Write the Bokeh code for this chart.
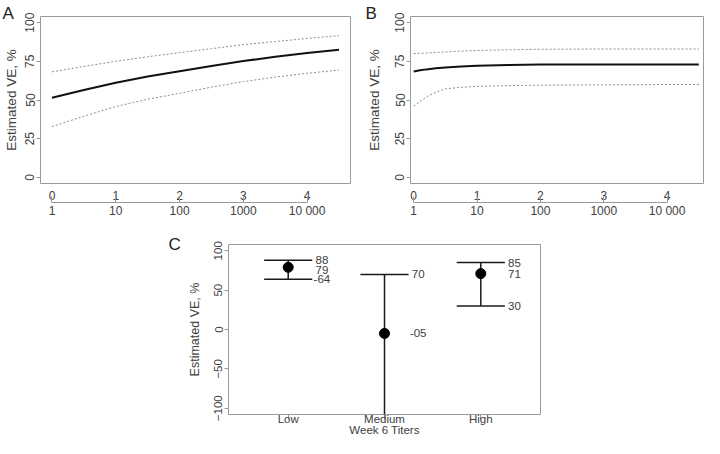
from bokeh.plotting import figure
from bokeh.models import (Range1d, FactorRange, LinearAxis, CategoricalAxis, FixedTicker,
                          ColumnDataSource, Title)
from bokeh.layouts import column, row
from bokeh.transform import dodge
from bokeh.embed import file_html
from bokeh.resources import INLINE

# ---------------- data ----------------
log_titer = [0, 0.5, 1, 1.5, 2, 2.5, 3, 3.5, 4, 4.5]
a_est = [51.5, 56.5, 61.2, 65.2, 68.6, 72.0, 75.2, 77.9, 80.4, 82.5]
a_upper = [68.2, 71.7, 75.0, 78.0, 80.6, 83.2, 85.8, 87.8, 89.8, 91.6]
a_lower = [32.8, 39.5, 45.8, 50.5, 54.3, 58.3, 61.9, 64.8, 67.3, 69.3]

b_x = [0, 0.1, 0.2, 0.35, 0.5, 0.75, 1, 1.5, 2, 3, 4, 4.5]
b_est = [68.5, 69.2, 69.8, 70.5, 71.0, 71.6, 72.1, 72.6, 72.9, 73.0, 73.0, 73.0]
b_upper = [80.0, 80.2, 80.4, 80.8, 81.1, 81.6, 82.0, 82.5, 82.8, 83.0, 83.0, 83.0]
b_lower = [46.0, 49.0, 52.0, 55.0, 57.2, 58.2, 58.8, 59.3, 59.6, 59.8, 60.0, 60.0]

x_ticks = [0, 1, 2, 3, 4]
x_titer_labels = ["1", "10", "100", "1000", "10 000"]
y_ticks_ab = [0, 25, 50, 75, 100]

categories = ["Low", "Medium", "High"]
c_est = [79, -5, 71]
c_upper = [88, 70, 85]
c_lower = [64, -250, 30]
c_est_text = ["79", "-05", "71"]
c_upper_text = ["88", "70", "85"]
c_lower_text = ["-64", "", "30"]
y_ticks_c = [-100, -50, 0, 50, 100]

FONT = "Liberation Sans"
TXT = "#404040"
GREY = "#9a9a9a"


def style_left_axis(ax, size="12px", title_size="13.5px", title_standoff=4):
    ax.axis_line_color = None
    ax.major_tick_out = 4
    ax.major_tick_in = 0
    ax.minor_tick_line_color = None
    ax.major_tick_line_color = GREY
    ax.major_label_orientation = "vertical"
    ax.major_label_standoff = 2
    ax.major_label_text_font = FONT
    ax.major_label_text_font_size = size
    ax.major_label_text_color = TXT
    ax.axis_label_text_font = FONT
    ax.axis_label_text_font_size = title_size
    ax.axis_label_text_font_style = "normal"
    ax.axis_label_text_color = TXT
    ax.axis_label_standoff = title_standoff


def panel_letter(text, offset, standoff):
    return Title(text=text, align="left", offset=offset, vertical_align="bottom",
                 standoff=standoff, text_font=FONT, text_font_size="17px",
                 text_font_style="normal", text_color="#222222")


def make_curve_panel(letter, letter_off, xs, est, up, lo, xr, width, left, right, top,
                     title_standoff):
    p = figure(width=width, height=220, output_backend="svg", toolbar_location=None,
               x_axis_type=None, y_axis_type=None,
               x_range=Range1d(*xr), y_range=Range1d(-4, 104),
               min_border_left=left, min_border_right=right, min_border_top=top,
               min_border_bottom=0)
    p.outline_line_color = GREY
    p.background_fill_color = "white"
    p.border_fill_color = "white"
    p.title = panel_letter(letter, letter_off, -12)

    ya = LinearAxis(ticker=FixedTicker(ticks=y_ticks_ab), axis_label="Estimated VE, %")
    style_left_axis(ya, title_standoff=title_standoff)
    p.add_layout(ya, "left")

    xa1 = LinearAxis(ticker=FixedTicker(ticks=x_ticks))
    xa1.axis_line_color = None
    xa1.major_tick_line_color = None
    xa1.minor_tick_line_color = None
    xa1.major_label_standoff = 1
    xa1.major_label_text_font = FONT
    xa1.major_label_text_font_size = "12px"
    xa1.major_label_text_color = TXT
    p.add_layout(xa1, "below")

    xa2 = LinearAxis(ticker=FixedTicker(ticks=x_ticks),
                     major_label_overrides={t: s for t, s in zip(x_ticks, x_titer_labels)})
    xa2.bounds = (x_ticks[0], x_ticks[-1])
    xa2.axis_line_color = GREY
    xa2.major_tick_line_color = GREY
    xa2.major_tick_in = 6
    xa2.major_tick_out = 0
    xa2.minor_tick_line_color = None
    xa2.major_label_standoff = 1
    xa2.major_label_text_font = FONT
    xa2.major_label_text_font_size = "12px"
    xa2.major_label_text_color = TXT
    p.add_layout(xa2, "below")

    p.line(xs, up, line_color="#8c8c8c", line_width=1, line_dash="2 2")
    p.line(xs, lo, line_color="#8c8c8c", line_width=1, line_dash="2 2")
    p.line(xs, est, line_color="#111111", line_width=2)
    return p


pA = make_curve_panel("A", -38, log_titer, a_est, a_upper, a_lower, (-0.18, 4.68),
                      356, 38, 6, 12, 4)
pB = make_curve_panel("B", -45, b_x, b_est, b_upper, b_lower, (-0.05, 4.59),
                      348, 54, 0, 16, 11)

# ---------------- panel C ----------------
pC = figure(width=550, height=218, output_backend="svg", toolbar_location=None,
            x_axis_type=None, y_axis_type=None,
            x_range=FactorRange(factors=categories, range_padding=0.08),
            y_range=Range1d(-108, 108),
            min_border_left=228, min_border_right=10, min_border_top=24, min_border_bottom=0)
pC.outline_line_color = GREY
pC.title = panel_letter("C", -60, -18)

yc = LinearAxis(ticker=FixedTicker(ticks=y_ticks_c), axis_label="Estimated VE, %")
style_left_axis(yc, size="11.5px", title_size="12.5px", title_standoff=10)
pC.add_layout(yc, "left")

xc = CategoricalAxis(axis_label="Week 6 Titers")
xc.axis_line_color = None
xc.major_tick_line_color = GREY
xc.major_tick_out = 5
xc.major_tick_in = 0
xc.major_label_standoff = -7
xc.major_label_text_font = FONT
xc.major_label_text_font_size = "11.5px"
xc.major_label_text_color = TXT
xc.axis_label_text_font = FONT
xc.axis_label_text_font_size = "11.5px"
xc.axis_label_text_font_style = "normal"
xc.axis_label_text_color = TXT
xc.axis_label_standoff = -4
pC.add_layout(xc, "below")

est_label_y = [max(l + 12, min(e, u - 12)) for e, u, l in zip(c_est, c_upper, c_lower)]
src = ColumnDataSource(dict(cat=categories, est=c_est, up=c_upper, lo=c_lower,
                            est_t=c_est_text, up_t=c_upper_text, lo_t=c_lower_text,
                            est_y=est_label_y))

pC.segment(x0="cat", y0="lo", x1="cat", y1="up", source=src, line_color="#1a1a1a", line_width=1.5)
pC.segment(x0=dodge("cat", -0.25, range=pC.x_range), y0="up",
           x1=dodge("cat", 0.25, range=pC.x_range), y1="up", source=src,
           line_color="#1a1a1a", line_width=1.5)
pC.segment(x0=dodge("cat", -0.25, range=pC.x_range), y0="lo",
           x1=dodge("cat", 0.25, range=pC.x_range), y1="lo", source=src,
           line_color="#1a1a1a", line_width=1.5)
pC.scatter(x="cat", y="est", source=src, size=10, color="black")

for col, ycol in (("up_t", "up"), ("lo_t", "lo"), ("est_t", "est_y")):
    pC.text(x=dodge("cat", 0.35, range=pC.x_range), y=ycol, text=col, source=src,
            text_font_size="11.5px", text_color=TXT, text_align="center",
            text_baseline="middle", text_font={"value": FONT})

layout = column(row(pA, pB), pC)
open("out.html", "w").write(file_html(layout, INLINE))
